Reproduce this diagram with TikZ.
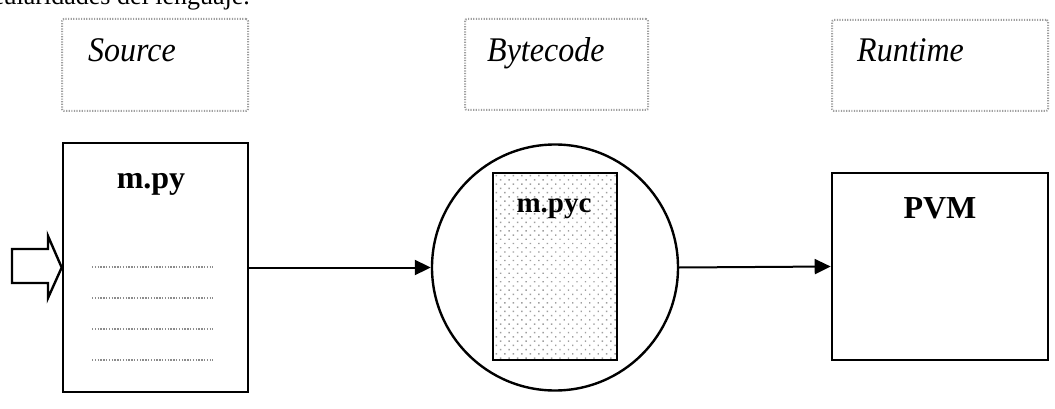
\documentclass[tikz,border=0pt]{standalone}
\usepackage{fontspec}
\setmainfont{Liberation Serif}
\usetikzlibrary{arrows.meta,patterns.meta}
\begin{document}
\begin{tikzpicture}[x=1pt,y=-1pt,
  stagebox/.style={draw=gray!75,line width=2pt,dash pattern=on 1.2pt off 1.4pt,rounded corners=2pt,inner sep=0pt},
  stagetext/.style={font=\fontsize{32}{36}\selectfont\itshape,anchor=base west,inner sep=0pt,yscale=1.08},
  solidbox/.style={draw=black,line width=2.6pt,inner sep=0pt},
  titletext/.style={font=\fontsize{32}{36}\selectfont\bfseries,anchor=base,inner sep=0pt},
  codeline/.style={draw=gray!90,line width=1.6pt,dash pattern=on 1.3pt off 1.5pt},
  flow/.style={line width=2pt,-{Triangle[length=16pt,width=15pt]}}]
\useasboundingbox (0,0) rectangle (1055,409);
\clip (0,0) rectangle (1055,409);
% cut-off caption line at the top
\node[font=\fontsize{26}{30}\selectfont,anchor=base east,inner sep=0pt] (cap) at (250,5) {particularidades del lenguaje.};
% stage labels
\node[stagebox,minimum width=186pt,minimum height=92pt] (src) at (155,65) {};
\node[stagetext] (srct) at (88,62) {Source};
\node[stagebox,minimum width=183pt,minimum height=91pt] (byt) at (556.5,64.5) {};
\node[stagetext] (bytt) at (487,62) {Bytecode};
\node[stagebox,minimum width=216pt,minimum height=91pt] (run) at (940,65.5) {};
\node[stagetext] (runt) at (857,62) {Runtime};
% m.py file
\node[solidbox,minimum width=185pt,minimum height=249pt] (mpy) at (155.5,267.5) {};
\node[titletext] (mpyt) at (151,188) {m.py};
\foreach \y/\n in {267/a,298/b,329/c,360/d}{
  \coordinate (l\n1) at (92,\y);
  \coordinate (l\n2) at (213,\y);
  \draw[codeline] (l\n1) -- (l\n2);
}
% input block arrow
\coordinate (tip) at (mpy.west);
\draw[line width=2.4pt,fill=white,line join=miter]
  (12,249) -- (48,249) -- (48,236) -- (tip) -- (48,298) -- (48,283) -- (12,283) -- cycle;
% bytecode circle
\node[draw,circle,line width=2.4pt,minimum size=246pt,inner sep=0pt] (circ) at (555,267.5) {};
\node[solidbox,minimum width=124pt,minimum height=187pt,
      pattern={Dots[distance=6pt,radius=1pt,angle=45]},pattern color=gray!75] (mpyc) at (555,266.5) {};
\node[titletext,font=\fontsize{29}{33}\selectfont\bfseries] (mpyct) at (554,212) {m.pyc};
% PVM
\node[solidbox,minimum width=216pt,minimum height=187pt] (pvm) at (940,266.5) {};
\node[titletext] (pvmt) at (940,218) {PVM};
% flow arrows
\draw[flow] (mpy.east) -- (circ.west);
\draw[flow] (circ.east) -- (pvm.west);
\end{tikzpicture}
\end{document}
